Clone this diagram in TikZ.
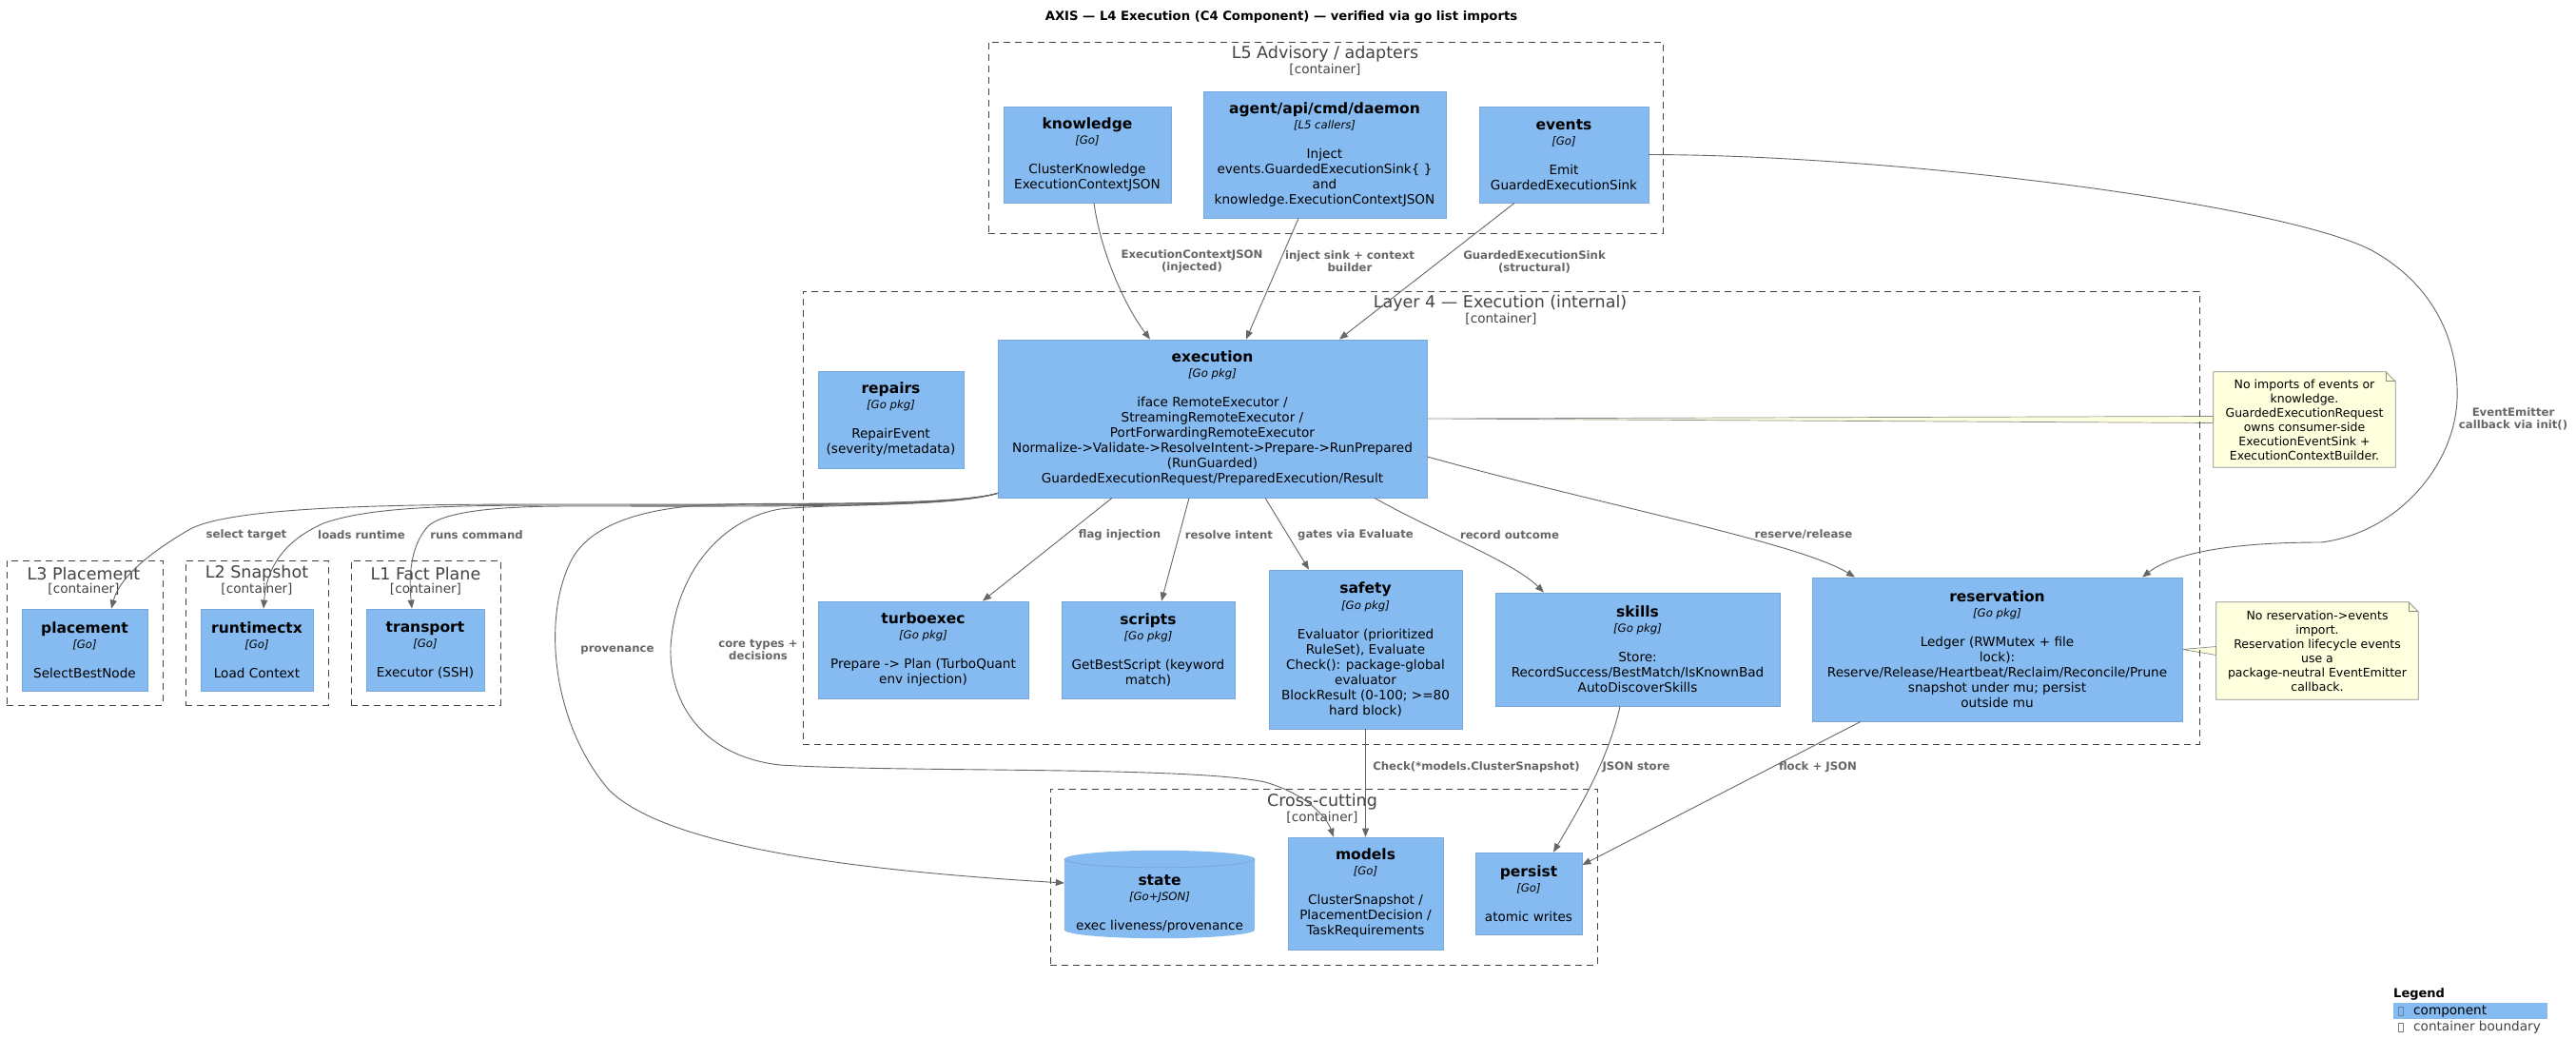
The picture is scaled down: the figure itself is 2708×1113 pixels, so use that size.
\documentclass[tikz,border=0pt]{standalone}
\usepackage{fontspec}
\setmainfont{DejaVu Sans}
\usetikzlibrary{arrows.meta,calc}
\definecolor{compblue}{HTML}{85BBF0}
\definecolor{compborder}{HTML}{78A8D8}
\definecolor{edgegray}{HTML}{666666}
\definecolor{boundgray}{HTML}{444444}
\definecolor{notefill}{HTML}{FEFFDD}
\definecolor{noteborder}{HTML}{8A8A8A}
\pgfdeclarelayer{background}
\pgfdeclarelayer{canvas}
\pgfsetlayers{canvas,background,main}
\newcommand{\ctitle}[1]{{\bfseries\fontsize{15.5}{16}\selectfont #1}}
\newcommand{\ctech}[1]{{\itshape\fontsize{11.7}{16}\selectfont [#1]}}
\begin{document}
\begin{tikzpicture}[x=1pt,y=-1pt,
  comp/.style={rectangle, fill=compblue, draw=compborder, line width=0.8pt, align=center,
    font=\fontsize{13.6}{16}\selectfont, inner sep=0pt, text=black},
  boundary/.style={rectangle, draw=boundgray, line width=0.9pt, dash pattern=on 7pt off 5pt, inner sep=0pt},
  btitle/.style={font=\fontsize{17.5}{20}\selectfont, text=boundgray, inner sep=0pt},
  bsub/.style={font=\fontsize{13.6}{15}\selectfont, text=boundgray, inner sep=0pt},
  edge/.style={draw=edgegray, line width=0.9pt, -{Triangle[length=9pt,width=7pt]}},
  elabel/.style={font=\bfseries\fontsize{11.7}{13}\selectfont, text=edgegray, align=center, inner sep=0pt},
  notenode/.style={rectangle, inner sep=0pt, align=center, font=\fontsize{12.5}{15}\selectfont, text=black},
  noteshape/.style={fill=notefill, draw=noteborder, line width=0.8pt},
]
\useasboundingbox (0,0) rectangle (2708,1113);
\begin{pgfonlayer}{canvas}
\fill[white] (0,0) rectangle (2708,1113);
\end{pgfonlayer}

% title
\node[font=\bfseries\fontsize{13.2}{15}\selectfont, inner sep=0pt] (title) at (1347,18)
  {AXIS — L4 Execution (C4 Component) — verified via go list imports};

% containers
\node[boundary, minimum width=709pt, minimum height=201pt] (L5box) at (1393.5,144.5) {};
\node[btitle] (L5title) at (1393,57) {L5 Advisory / adapters};
\node[bsub] (L5sub) at (1393,73) {[container]};

\node[boundary, minimum width=1468pt, minimum height=476pt] (L4box) at (1578,544) {};
\node[btitle] (L4title) at (1577,319) {Layer 4 — Execution (internal)};
\node[bsub] (L4sub) at (1578,335) {[container]};

\node[boundary, minimum width=164pt, minimum height=152pt] (L3box) at (89,665) {};
\node[btitle] (L3title) at (88,603) {L3 Placement};
\node[bsub] (L3sub) at (88,619) {[container]};

\node[boundary, minimum width=150pt, minimum height=152pt] (L2box) at (270,665) {};
\node[btitle] (L2title) at (270,603) {L2 Snapshot};
\node[bsub] (L2sub) at (270,619) {[container]};

\node[boundary, minimum width=157pt, minimum height=152pt] (L1box) at (447.5,665) {};
\node[btitle] (L1title) at (447.5,603) {L1 Fact Plane};
\node[bsub] (L1sub) at (447.5,619) {[container]};

\node[boundary, minimum width=575pt, minimum height=185pt] (CCbox) at (1391.5,921.5) {};
\node[btitle] (CCtitle) at (1390,843) {Cross-cutting};
\node[bsub] (CCsub) at (1390,859) {[container]};

% components
\node[comp, minimum width=176pt, minimum height=101pt] (knowledge) at (1143,162.5)
  {\ctitle{knowledge}\\\ctech{Go}\\[15pt]ClusterKnowledge\\ExecutionContextJSON};
\node[comp, minimum width=255pt, minimum height=133pt] (agent) at (1392.5,162.5)
  {\ctitle{agent/api/cmd/daemon}\\\ctech{L5 callers}\\[15pt]Inject\\events.GuardedExecutionSink\{ \}\\and\\knowledge.ExecutionContextJSON};
\node[comp, minimum width=178pt, minimum height=101pt] (events) at (1644,162.5)
  {\ctitle{events}\\\ctech{Go}\\[15pt]Emit\\GuardedExecutionSink};

\node[comp, minimum width=153pt, minimum height=102pt] (repairs) at (936.5,441)
  {\ctitle{repairs}\\\ctech{Go pkg}\\[15pt]RepairEvent\\(severity/metadata)};
\node[comp, minimum width=451pt, minimum height=166pt] (execution) at (1274.5,440)
  {\ctitle{execution}\\\ctech{Go pkg}\\[15pt]iface RemoteExecutor /\\StreamingRemoteExecutor /\\PortForwardingRemoteExecutor\\Normalize->Validate->ResolveIntent->Prepare->RunPrepared\\(RunGuarded)\\GuardedExecutionRequest/PreparedExecution/Result};
\node[comp, minimum width=221pt, minimum height=102pt] (turboexec) at (970.5,683)
  {\ctitle{turboexec}\\\ctech{Go pkg}\\[15pt]Prepare -> Plan (TurboQuant\\env injection)};
\node[comp, minimum width=182pt, minimum height=102pt] (scripts) at (1207,683)
  {\ctitle{scripts}\\\ctech{Go pkg}\\[15pt]GetBestScript (keyword\\match)};
\node[comp, minimum width=203pt, minimum height=167pt] (safety) at (1435.5,682.5)
  {\ctitle{safety}\\\ctech{Go pkg}\\[15pt]Evaluator (prioritized\\RuleSet), Evaluate\\Check(): package-global\\evaluator\\BlockResult (0-100; >=80\\hard block)};
\node[comp, minimum width=299pt, minimum height=119pt] (skills) at (1721.5,682.5)
  {\ctitle{skills}\\\ctech{Go pkg}\\[15pt]Store:\\RecordSuccess/BestMatch/IsKnownBad\\AutoDiscoverSkills};
\node[comp, minimum width=389pt, minimum height=151pt] (reservation) at (2099.5,682.5)
  {\ctitle{reservation}\\\ctech{Go pkg}\\[15pt]Ledger (RWMutex + file\\lock):\\Reserve/Release/Heartbeat/Reclaim/Reconcile/Prune\\snapshot under mu; persist\\outside mu};

\node[comp, minimum width=132pt, minimum height=86pt] (placement) at (89,683)
  {\ctitle{placement}\\\ctech{Go}\\[15pt]SelectBestNode};
\node[comp, minimum width=118pt, minimum height=86pt] (runtimectx) at (270,683)
  {\ctitle{runtimectx}\\\ctech{Go}\\[15pt]Load Context};
\node[comp, minimum width=124pt, minimum height=86pt] (transport) at (447,683)
  {\ctitle{transport}\\\ctech{Go}\\[15pt]Executor (SSH)};

\node[rectangle, inner sep=0pt, minimum width=200pt, minimum height=92pt] (state) at (1219,940) {};
\node[align=center, inner sep=0pt, font=\fontsize{13.6}{16}\selectfont] (statetext) at (1219,950)
  {\ctitle{state}\\\ctech{Go+JSON}\\[15pt]exec liveness/provenance};
\node[comp, minimum width=163pt, minimum height=118pt] (models) at (1435.5,939)
  {\ctitle{models}\\\ctech{Go}\\[15pt]ClusterSnapshot /\\PlacementDecision /\\TaskRequirements};
\node[comp, minimum width=112pt, minimum height=86pt] (persist) at (1607,939)
  {\ctitle{persist}\\\ctech{Go}\\[15pt]atomic writes};

% notes
\node[notenode, minimum width=191pt, minimum height=100pt] (note1) at (2422.5,441)
  {No imports of events or\\knowledge.\\GuardedExecutionRequest\\owns consumer-side\\ExecutionEventSink +\\ExecutionContextBuilder.};
\node[notenode, minimum width=212pt, minimum height=102pt] (note2) at (2436,684)
  {No reservation->events\\import.\\Reservation lifecycle events\\use a\\package-neutral EventEmitter\\callback.};

\begin{pgfonlayer}{background}
  % cylinder
  \fill[compblue] ([yshift=-9pt]state.north west) -- ([yshift=9pt]state.south west)
     arc[start angle=180, end angle=360, x radius=100pt, y radius=9pt]
     -- ([yshift=-9pt]state.north east)
     arc[start angle=0, end angle=180, x radius=100pt, y radius=9pt] -- cycle;
  \draw[compborder, line width=0.8pt] ([yshift=-9pt]state.north west)
     arc[start angle=180, end angle=360, x radius=100pt, y radius=9pt];
  % note connectors
  \filldraw[noteshape, line width=0.7pt] (execution.east) -- ([yshift=3.5pt]note1.west) -- ([yshift=-3.5pt]note1.west) -- cycle;
  \filldraw[noteshape, line width=0.7pt] (reservation.east) -- ([yshift=4.5pt]note2.west) -- ([yshift=-4.5pt]note2.west) -- cycle;
  % note shapes
  \filldraw[noteshape] (note1.north west) -- ([xshift=-10pt]note1.north east) -- ([yshift=-10pt]note1.north east)
     -- (note1.south east) -- (note1.south west) -- cycle;
  \draw[noteshape, fill=none] ([xshift=-10pt]note1.north east) -- ([xshift=-10pt,yshift=-10pt]note1.north east) -- ([yshift=-10pt]note1.north east);
  \filldraw[noteshape] (note2.north west) -- ([xshift=-10pt]note2.north east) -- ([yshift=-10pt]note2.north east)
     -- (note2.south east) -- (note2.south west) -- cycle;
  \draw[noteshape, fill=none] ([xshift=-10pt]note2.north east) -- ([xshift=-10pt,yshift=-10pt]note2.north east) -- ([yshift=-10pt]note2.north east);
\end{pgfonlayer}

% edges into execution
\draw[edge] ([xshift=7pt]knowledge.south) .. controls (1158,270) and (1185,325) .. ([xshift=-65.5pt]execution.north);
\draw[edge] ([xshift=-27.5pt]agent.south) -- ([xshift=35.5pt]execution.north);
\draw[edge] ([xshift=-52pt]events.south) -- ([xshift=133.5pt]execution.north);
\node[elabel] (lbl1) at (1253,275) {ExecutionContextJSON\\(injected)};
\node[elabel] (lbl2) at (1419,275) {inject sink + context\\builder};
\node[elabel] (lbl3) at (1613,275) {GuardedExecutionSink\\(structural)};

% events -> reservation
\draw[edge] (events.east) .. controls (2000,163) and (2400,215) .. (2493,263)
   .. controls (2560,300) and (2585,360) .. (2583,420)
   .. controls (2580,490) and (2520,560) .. (2440,570)
   .. controls (2330,570) and (2280,585) .. ([xshift=152.5pt]reservation.north);
\node[elabel] (lbl4) at (2642,440) {EventEmitter\\callback via init()};

% execution -> internal
\draw[edge] ([xshift=-105.5pt]execution.south) -- ([xshift=62.5pt]turboexec.north);
\draw[edge] ([xshift=-24.5pt]execution.south) -- ([xshift=14pt]scripts.north);
\draw[edge] ([xshift=55.5pt]execution.south) -- ([xshift=-59.5pt]safety.north);
\draw[edge] ([xshift=170.5pt]execution.south) .. controls (1510,560) and (1590,590) .. ([xshift=-98.5pt]skills.north);
\draw[edge] ([yshift=-40pt]execution.east) .. controls (1680,530) and (1890,570) .. ([xshift=-149.5pt]reservation.north);
\node[elabel] (lbl5) at (1177,562) {flag injection};
\node[elabel] (lbl6) at (1292,562) {resolve intent};
\node[elabel] (lbl7) at (1425,562) {gates via Evaluate};
\node[elabel] (lbl8) at (1587,562) {record outcome};
\node[elabel] (lbl9) at (1896,562) {reserve/release};

% execution -> left containers
\draw[edge] ([yshift=5pt]execution.south west) .. controls (1000,532) and (800,530) .. (600,530)
   .. controls (450,530) and (250,530) .. (200,556) .. controls (150,585) and (125,610) .. ([xshift=28pt]placement.north);
\draw[edge] ([yshift=5pt]execution.south west) .. controls (1000,533) and (800,531) .. (600,531)
   .. controls (480,531) and (390,532) .. (340,550) .. controls (295,570) and (280,600) .. ([xshift=7pt]runtimectx.north);
\draw[edge] ([yshift=5pt]execution.south west) .. controls (1000,534) and (800,532) .. (600,532)
   .. controls (540,532) and (470,535) .. (450,553) .. controls (430,575) and (430,610) .. ([xshift=-14pt]transport.north);
\node[elabel] (lbl10) at (259,562) {select target};
\node[elabel] (lbl11) at (380,562) {loads runtime};
\node[elabel] (lbl12) at (501,562) {runs command};

% execution -> cross-cutting
\draw[edge] ([yshift=5pt]execution.south west) .. controls (1000,532) and (850,528) .. (760,530)
   .. controls (680,532) and (620,550) .. (600,590) .. controls (570,650) and (580,760) .. (640,830)
   .. controls (700,890) and (900,915) .. ([yshift=12pt]state.west);
\draw[edge] ([yshift=5pt]execution.south west) .. controls (1000,533) and (880,529) .. (820,535)
   .. controls (760,545) and (710,600) .. (705,680) .. controls (703,740) and (740,795) .. (820,804)
   .. controls (950,812) and (1250,805) .. (1330,822) .. controls (1375,835) and (1395,860) .. ([xshift=-33.5pt]models.north);
\node[elabel] (lbl13) at (649,683) {provenance};
\node[elabel] (lbl14) at (797,683) {core types +\\decisions};

\draw[edge] (safety.south) -- (models.north);
\draw[edge] ([xshift=-18.5pt]skills.south) .. controls (1690,800) and (1660,850) .. ([xshift=26pt]persist.north);
\draw[edge] ([xshift=-143.5pt]reservation.south) -- ([yshift=30pt]persist.east);
\node[elabel] (lbl15) at (1552,806) {Check(*models.ClusterSnapshot)};
\node[elabel] (lbl16) at (1720,806) {JSON store};
\node[elabel] (lbl17) at (1911,806) {flock + JSON};

% legend
\node[font=\bfseries\fontsize{13}{15}\selectfont, anchor=west, inner sep=0pt] (legtitle) at (2516,1045) {Legend};
\node[rectangle, fill=compblue, minimum width=162pt, minimum height=17pt, inner sep=0pt] (legbar) at (2597,1062.5) {};
\node[rectangle, draw=compborder!80!black, line width=0.6pt, minimum width=5pt, minimum height=9pt, inner sep=0pt] (legbox1) at (2524,1063) {};
\node[font=\fontsize{13.6}{15}\selectfont, anchor=west, inner sep=0pt] (legcomp) at (2537,1063) {component};
\node[rectangle, draw=gray, line width=0.6pt, minimum width=5pt, minimum height=9pt, inner sep=0pt] (legbox2) at (2524,1080) {};
\node[font=\fontsize{13.6}{15}\selectfont, text=boundgray, anchor=west, inner sep=0pt] (legcont) at (2537,1080) {container boundary};
\end{tikzpicture}
\end{document}
